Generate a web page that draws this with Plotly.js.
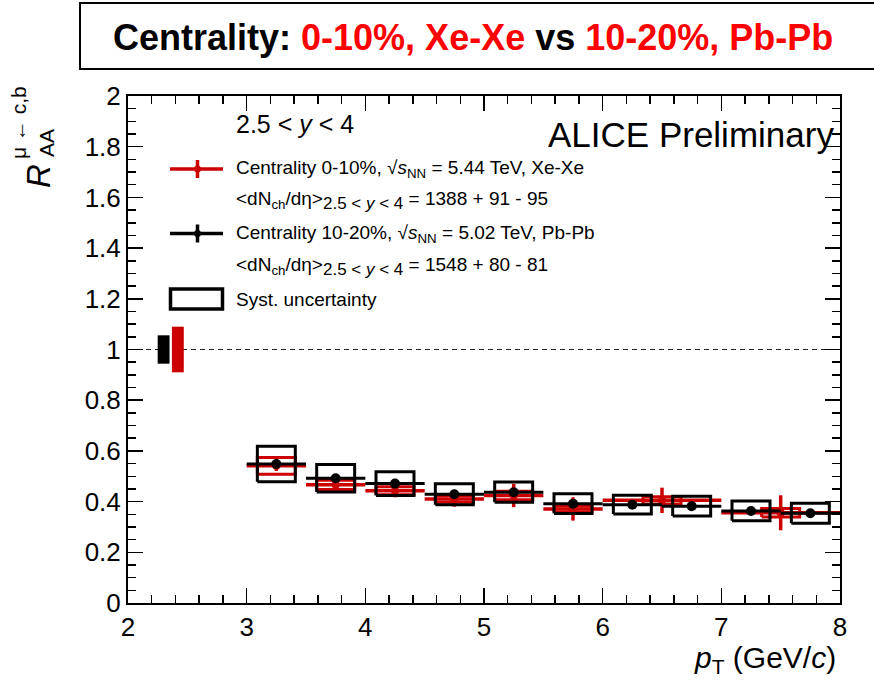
<!DOCTYPE html>
<html>
<head>
<meta charset="utf-8">
<script src="https://cdn.plot.ly/plotly-3.0.1.min.js"></script>
<style>html,body{margin:0;padding:0;background:#fff;}#chart{width:874px;height:684px;}</style>
</head>
<body>
<div id="chart"></div>
<script>
// ---- data ----
const ptPb        = [3.25, 3.75, 4.25, 4.75, 5.25, 5.75, 6.25, 6.75, 7.25, 7.75];
const ptPbHalfBin = [0.25, 0.25, 0.25, 0.25, 0.25, 0.25, 0.25, 0.25, 0.25, 0.25];
const raaPb       = [0.548, 0.492, 0.471, 0.429, 0.437, 0.392, 0.388, 0.382, 0.363, 0.354];
const statPb      = [0.012, 0.010, 0.010, 0.009, 0.009, 0.009, 0.009, 0.010, 0.010, 0.011];
const systPb      = [0.070, 0.054, 0.047, 0.041, 0.040, 0.039, 0.037, 0.039, 0.039, 0.039];

const ptXe        = [3.25, 3.75, 4.25, 4.75, 5.25, 5.75, 6.5, 7.5];
const ptXeHalfBin = [0.25, 0.25, 0.25, 0.25, 0.25, 0.25, 0.5, 0.5];
const raaXe       = [0.541, 0.466, 0.443, 0.410, 0.424, 0.371, 0.405, 0.356];
const statXe      = [0.020, 0.020, 0.026, 0.030, 0.046, 0.046, 0.050, 0.069];
const systXe      = [0.033, 0.018, 0.016, 0.013, 0.017, 0.012, 0.014, 0.017];

const normPt   = [2.30, 2.42];          // Pb-Pb, Xe-Xe normalisation boxes
const normUnc  = [0.056, 0.090];
const refLevel = 1;

const xTicks = [2, 3, 4, 5, 6, 7, 8];
const yTicks = [0, 0.2, 0.4, 0.6, 0.8, 1, 1.2, 1.4, 1.6, 1.8, 2];

// ---- styling constants ----
const RED = '#cc0000';
const BLACK = '#000000';
const BOX_HW = 0.16;
const NORM_HW = 0.05;
const FONT = 'Liberation Sans, Arial, Helvetica, sans-serif';

function boxPath(xs, ys, hw, hh) {
  const X = [], Y = [];
  for (let i = 0; i < xs.length; i++) {
    X.push(xs[i]-hw, xs[i]+hw, xs[i]+hw, xs[i]-hw, xs[i]-hw, null);
    Y.push(ys[i]-hh[i], ys[i]-hh[i], ys[i]+hh[i], ys[i]+hh[i], ys[i]-hh[i], null);
  }
  return {x: X, y: Y};
}

const traces = [];
// normalisation boxes
const normColors = [BLACK, RED];
for (let i = 0; i < normPt.length; i++) {
  const p = boxPath([normPt[i]], [refLevel], NORM_HW, [normUnc[i]]);
  traces.push({x: p.x, y: p.y, mode: 'lines', fill: 'toself', fillcolor: normColors[i],
    line: {width: 0, color: normColors[i]}, hoverinfo: 'skip', showlegend: false});
}
// red syst
const rb = boxPath(ptXe, raaXe, BOX_HW, systXe);
traces.push({x: rb.x, y: rb.y, mode: 'lines', line: {color: RED, width: 3}, showlegend: false, hoverinfo: 'skip'});
// red stat
traces.push({x: ptXe, y: raaXe, mode: 'markers', marker: {color: RED, size: 8},
  error_x: {type: 'data', array: ptXeHalfBin, color: RED, thickness: 3.5, width: 0},
  error_y: {type: 'data', array: statXe, color: RED, thickness: 3.5, width: 0}, showlegend: false});
// black syst
const bb = boxPath(ptPb, raaPb, BOX_HW, systPb);
traces.push({x: bb.x, y: bb.y, mode: 'lines', line: {color: BLACK, width: 3}, showlegend: false, hoverinfo: 'skip'});
// black stat
traces.push({x: ptPb, y: raaPb, mode: 'markers', marker: {color: BLACK, size: 10},
  error_x: {type: 'data', array: ptPbHalfBin, color: BLACK, thickness: 3, width: 0},
  error_y: {type: 'data', array: statPb, color: BLACK, thickness: 3, width: 0}, showlegend: false});

// ---- paper-coordinate helpers (plot area 128..840 x 96..603) ----
const L = 128, R = 840, T = 96, B = 603;
const px = v => (v - L) / (R - L);
const py = v => (B - v) / (B - T);

const shapes = [
  {type: 'line', xref: 'x', yref: 'y', x0: 2, x1: 8, y0: refLevel, y1: refLevel, layer: 'below',
   line: {color: '#222', width: 1.2, dash: '5px,4px'}},
  // title frame
  {type: 'rect', xref: 'paper', yref: 'paper', x0: px(80), x1: px(890), y0: py(69), y1: py(3),
   line: {color: BLACK, width: 2}},
  // legend icons
  {type: 'line', xref: 'paper', yref: 'paper', x0: px(170), x1: px(223), y0: py(169), y1: py(169), line: {color: RED, width: 3.5}},
  {type: 'line', xref: 'paper', yref: 'paper', x0: px(197.5), x1: px(197.5), y0: py(160), y1: py(178), line: {color: RED, width: 3.5}},
  {type: 'circle', xref: 'paper', yref: 'paper', x0: px(194), x1: px(201), y0: py(165.5), y1: py(172.5), fillcolor: RED, line: {color: RED, width: 0}},
  {type: 'line', xref: 'paper', yref: 'paper', x0: px(170), x1: px(223), y0: py(233.5), y1: py(233.5), line: {color: BLACK, width: 3.5}},
  {type: 'line', xref: 'paper', yref: 'paper', x0: px(197.5), x1: px(197.5), y0: py(224.5), y1: py(242.5), line: {color: BLACK, width: 3.5}},
  {type: 'circle', xref: 'paper', yref: 'paper', x0: px(194), x1: px(201), y0: py(230), y1: py(237), fillcolor: BLACK, line: {color: BLACK, width: 0}},
  {type: 'rect', xref: 'paper', yref: 'paper', x0: px(170.5), x1: px(222.5), y0: py(309), y1: py(289), line: {color: BLACK, width: 3.5}}
];

const txt = (x, y, text, size, extra) => Object.assign({xref: 'paper', yref: 'paper', x: px(x), y: py(y), text: text,
  showarrow: false, xanchor: 'left', yanchor: 'middle', font: {family: FONT, size: size, color: BLACK}}, extra || {});

const subY = '<span style="font-size:17px">2.5 &lt; <i>y</i> &lt; 4</span>';
const annotations = [
  txt(473, 37, '<b>Centrality: <span style="color:#ff0000">0-10%, Xe-Xe</span> vs <span style="color:#ff0000">10-20%, Pb-Pb</span></b>', 36,
    {xanchor: 'center'}),
  txt(234, 124, '2.5 &lt; <i>y</i> &lt; 4', 25),
  txt(836, 135, 'ALICE Preliminary', 35, {xanchor: 'right'}),
  txt(234, 169, 'Centrality 0-10%, √<i>s</i><sub>NN</sub> = 5.44 TeV, Xe-Xe', 19),
  txt(234, 201, '&lt;dN<sub>ch</sub>/dη&gt;<sub>' + subY + '</sub> = 1388 + 91 - 95', 19),
  txt(234, 234, 'Centrality 10-20%, √<i>s</i><sub>NN</sub> = 5.02 TeV, Pb-Pb', 19),
  txt(234, 266, '&lt;dN<sub>ch</sub>/dη&gt;<sub>' + subY + '</sub> = 1548 + 80 - 81', 19),
  txt(234, 299, 'Syst. uncertainty', 19),
  // axis titles
  txt(838, 659, '<i>p</i><sub>T</sub> (GeV/<i>c</i>)', 30, {xanchor: 'right'}),
  txt(38, 176, '<i>R</i>', 33, {xanchor: 'center', textangle: -90}),
  txt(46, 143, 'AA', 21, {xanchor: 'center', textangle: -90}),
  txt(18, 123, 'μ ← c,b', 21, {xanchor: 'center', textangle: -90})
];

const axisCommon = {
  showgrid: false, zeroline: false, showline: true, linecolor: BLACK, linewidth: 2,
  mirror: 'ticks', ticks: 'inside', ticklen: 15, tickwidth: 1.5, tickcolor: BLACK,
  tickfont: {family: FONT, size: 26, color: BLACK}
};

const layout = {
  width: 874, height: 684,
  margin: {l: L, r: 874 - R, t: T, b: 684 - B, pad: 0},
  paper_bgcolor: '#fff', plot_bgcolor: '#fff',
  showlegend: false,
  xaxis: Object.assign({}, axisCommon, {range: [2, 8], tickmode: 'array', tickvals: xTicks, ticktext: xTicks.map(String),
    minor: {dtick: 0.2, ticks: 'inside', ticklen: 8, tickwidth: 1.5, tickcolor: BLACK}}),
  yaxis: Object.assign({}, axisCommon, {range: [0, 2], tickmode: 'array', tickvals: yTicks, ticktext: yTicks.map(String),
    minor: {dtick: 0.05, ticks: 'inside', ticklen: 8, tickwidth: 1.5, tickcolor: BLACK}}),
  shapes: shapes,
  annotations: annotations
};

Plotly.newPlot('chart', traces, layout, {displayModeBar: false, staticPlot: true});
</script>
</body>
</html>
